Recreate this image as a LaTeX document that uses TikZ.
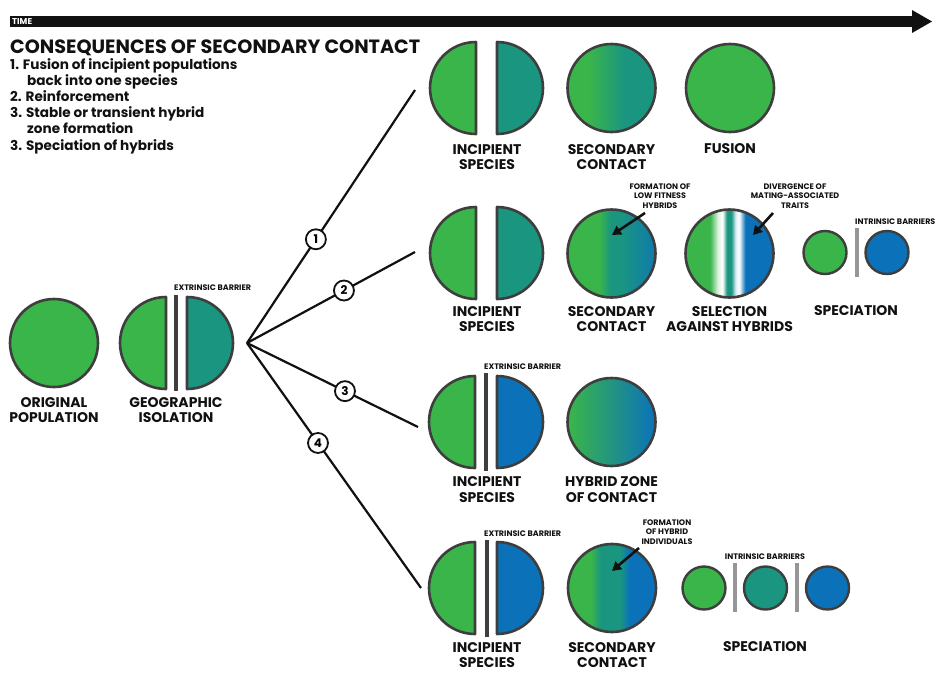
\documentclass[tikz,border=0pt]{standalone}
\usepackage{fontspec}
\setmainfont{Poppins}
\usetikzlibrary{arrows.meta}
\definecolor{cg}{RGB}{58,181,74}
\definecolor{ct}{RGB}{26,150,128}
\definecolor{cb}{RGB}{11,114,186}
\definecolor{ctb}{RGB}{14,122,172}
\definecolor{edge}{RGB}{62,62,62}
\definecolor{ink}{RGB}{17,17,17}
\definecolor{ibar}{RGB}{150,150,150}
\definecolor{pg}{RGB}{225,243,226}
\definecolor{pb}{RGB}{222,236,248}
\pgfdeclarehorizontalshading{shA}{100bp}{color(0bp)=(cg); color(37bp)=(cg); color(57bp)=(ct); color(100bp)=(ct)}
\pgfdeclarehorizontalshading{shB}{100bp}{color(0bp)=(cg); color(43bp)=(cg); color(49.5bp)=(ct); color(55bp)=(ct); color(75bp)=(ctb); color(100bp)=(ctb)}
\pgfdeclarehorizontalshading{shS}{100bp}{color(0bp)=(cg); color(39bp)=(cg); color(43.5bp)=(pg); color(46bp)=(white); color(48.5bp)=(ct); color(51bp)=(ct); color(53.5bp)=(pb); color(55.5bp)=(white); color(59bp)=(cb); color(100bp)=(cb)}
\pgfdeclarehorizontalshading{shH}{100bp}{color(0bp)=(cg); color(26bp)=(cg); color(75bp)=(cb); color(100bp)=(cb)}
\pgfdeclarehorizontalshading{shD}{100bp}{color(0bp)=(cg); color(38bp)=(cg); color(43.5bp)=(ct); color(54.5bp)=(ct); color(60bp)=(cb); color(100bp)=(cb)}
\begin{document}
\begin{tikzpicture}[x=1pt,y=-1pt,
  bigc/.style={circle,draw=edge,line width=2.6pt,minimum size=88pt,inner sep=0pt},
  smallc/.style={circle,draw=edge,line width=2.4pt,minimum size=43pt,inner sep=0pt},
  half/.style={draw=edge,line width=2.6pt,line join=round},
  lbl/.style={font=\bfseries\fontsize{14}{15.5}\selectfont,align=center,text=ink,inner sep=0pt},
  tiny/.style={font=\bfseries\fontsize{8}{9.5}\selectfont,align=center,text=ink,inner sep=0pt},
  numc/.style={circle,draw=ink,fill=white,line width=1.8pt,minimum size=20pt,inner sep=0pt,font=\bfseries\fontsize{12}{12}\selectfont},
  conn/.style={draw=ink,line width=2.2pt},
  pointer/.style={draw=ink,line width=2.6pt,-{Triangle[length=9pt,width=10pt]}}
]
\fill[white] (0,0) rectangle (944,678);
\useasboundingbox (0,0) rectangle (944,678);
% time arrow
\fill[ink] (10,16) rectangle (914,27);
\fill[ink] (912,10) -- (932,21.5) -- (912,33) -- cycle;
\node[anchor=west,text=white,font=\bfseries\fontsize{8.5}{8.5}\selectfont,inner sep=0pt] (time) at (12,21.5) {TIME};
% title and list
\node[anchor=base west,font=\bfseries\fontsize{19.2}{20}\selectfont,inner sep=0pt,text=ink] (title) at (10,53) {CONSEQUENCES OF SECONDARY CONTACT};
\node[anchor=north west,align=left,font=\bfseries\fontsize{13.6}{16.2}\selectfont,inner sep=0pt,text=ink] (list) at (10,58)
 {1. Fusion of incipient populations\\\hspace*{17pt}back into one species\\2. Reinforcement\\3. Stable or transient hybrid\\\hspace*{17pt}zone formation\\3. Speciation of hybrids};
% original population
\node[bigc,fill=cg] (orig) at (54,343) {};
\node[lbl] (origL) at (54,410) {ORIGINAL\\POPULATION};
% geographic isolation
\draw[half,fill=cg] (166,389) arc[start angle=90,end angle=270,radius=46] -- cycle;
\draw[half,fill=ct] (187,297) arc[start angle=270,end angle=450,radius=46] -- cycle;
\fill[edge] (174,295) rectangle (178,391);
\node[tiny,anchor=west] (gxb) at (174,288) {EXTRINSIC BARRIER};
\node[lbl] (geoL) at (176,410) {GEOGRAPHIC\\ISOLATION};
% fan
\coordinate (fan) at (247,343);
\coordinate (e1) at (415,90);
\coordinate (e2) at (415,252);
\coordinate (e3) at (418,427);
\coordinate (e4) at (421,588);
\draw[conn] (fan) -- node[numc,pos=0.41] (n1) {1} (e1);
\draw[conn] (fan) -- node[numc,pos=0.577] (n2) {2} (e2);
\draw[conn] (fan) -- node[numc,pos=0.573] (n3) {3} (e3);
\draw[conn] (fan) -- node[numc,pos=0.408] (n4) {4} (e4);
% row 1
\draw[half,fill=cg] (476,134) arc[start angle=90,end angle=270,radius=46] -- cycle;
\draw[half,fill=ct] (497,42) arc[start angle=270,end angle=450,radius=46] -- cycle;
\node[lbl] (is1) at (487,157) {INCIPIENT\\SPECIES};
\node[bigc,shading=shA] (sc1) at (611.5,88) {};
\node[lbl] (sc1L) at (611.5,157) {SECONDARY\\CONTACT};
\node[bigc,fill=cg] (fu1) at (730,88) {};
\node[lbl] (fu1L) at (730,149) {FUSION};
% row 2
\draw[half,fill=cg] (476,299) arc[start angle=90,end angle=270,radius=46] -- cycle;
\draw[half,fill=ct] (497,207) arc[start angle=270,end angle=450,radius=46] -- cycle;
\node[lbl] (is2) at (487,319) {INCIPIENT\\SPECIES};
\node[bigc,shading=shB] (sc2) at (611.5,253.5) {};
\node[lbl] (sc2L) at (611.5,319) {SECONDARY\\CONTACT};
\node[bigc,shading=shS] (se2) at (729.5,253.5) {};
\node[lbl] (se2L) at (729.5,319) {SELECTION\\AGAINST HYBRIDS};
\node[smallc,fill=cg] (sp2a) at (825,252.5) {};
\node[smallc,fill=cb] (sp2b) at (887,252.5) {};
\fill[ibar] (855,228) rectangle (858.5,277);
\node[tiny,anchor=west] (ib2) at (855,222) {INTRINSIC BARRIERS};
\node[lbl] (sp2L) at (856,311) {SPECIATION};
\node[tiny] (fl) at (660,196) {FORMATION OF\\LOW FITNESS\\HYBRIDS};
\coordinate (fla) at (645,213);
\coordinate (flb) at (612,235);
\draw[pointer] (fla) -- (flb);
\node[tiny] (dv) at (795,196) {DIVERGENCE OF\\MATING-ASSOCIATED\\TRAITS};
\coordinate (dva) at (773,213);
\coordinate (dvb) at (753,235);
\draw[pointer] (dva) -- (dvb);
% row 3
\draw[half,fill=cg] (475,468) arc[start angle=90,end angle=270,radius=46] -- cycle;
\draw[half,fill=cb] (497,376) arc[start angle=270,end angle=450,radius=46] -- cycle;
\fill[edge] (484,373) rectangle (488,471);
\node[tiny,anchor=west] (xb3) at (484,367) {EXTRINSIC BARRIER};
\node[lbl] (is3) at (487,489.5) {INCIPIENT\\SPECIES};
\node[bigc,shading=shH] (hz3) at (611.5,422) {};
\node[lbl] (hz3L) at (611.5,489.5) {HYBRID ZONE\\OF CONTACT};
% row 4
\draw[half,fill=cg] (475,634) arc[start angle=90,end angle=270,radius=46] -- cycle;
\draw[half,fill=cb] (497,542) arc[start angle=270,end angle=450,radius=46] -- cycle;
\fill[edge] (485,540) rectangle (489,637);
\node[tiny,anchor=west] (xb4) at (484,534) {EXTRINSIC BARRIER};
\node[lbl] (is4) at (487,655) {INCIPIENT\\SPECIES};
\node[bigc,shading=shD] (sc4) at (612,588) {};
\node[lbl] (sc4L) at (612,655) {SECONDARY\\CONTACT};
\node[tiny] (fh) at (667,532) {FORMATION\\OF HYBRID\\INDIVIDUALS};
\coordinate (fha) at (639,548);
\coordinate (fhb) at (612,571);
\draw[pointer] (fha) -- (fhb);
\node[smallc,fill=cg] (sp4a) at (704,588) {};
\node[smallc,fill=ct] (sp4b) at (765.5,588) {};
\node[smallc,fill=cb] (sp4c) at (827.5,588) {};
\fill[ibar] (733,563) rectangle (736.5,612);
\fill[ibar] (795,563) rectangle (798.5,612);
\node[tiny] (ib4) at (765,557) {INTRINSIC BARRIERS};
\node[lbl] (sp4L) at (765,647) {SPECIATION};
\end{tikzpicture}
\end{document}
